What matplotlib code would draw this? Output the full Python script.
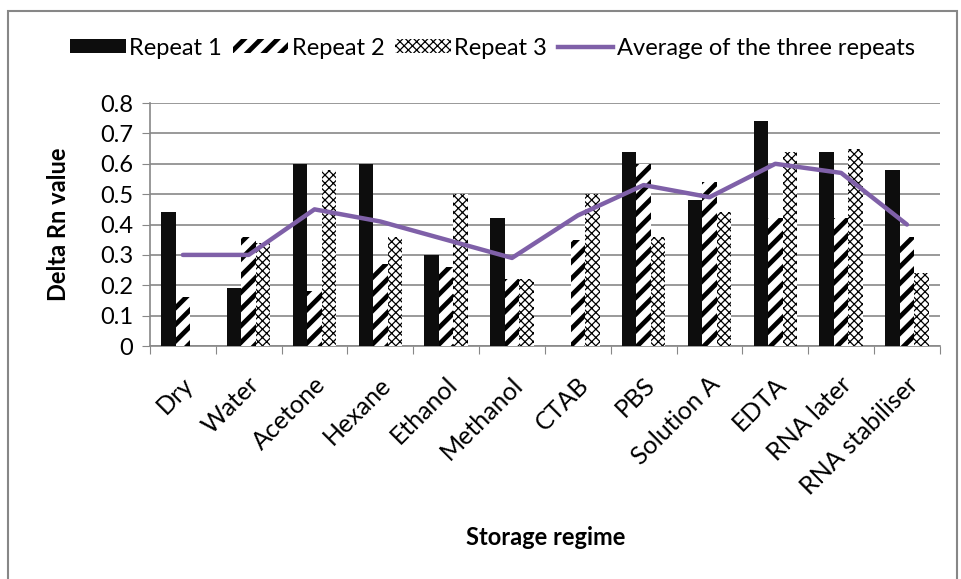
import numpy as np
import matplotlib
matplotlib.use("Agg")
import matplotlib.pyplot as plt
import matplotlib.transforms as mtransforms
from matplotlib.patches import Rectangle, Patch
from matplotlib.lines import Line2D

plt.rcParams['font.family'] = ['Lato', 'DejaVu Sans']

regimes = ["Dry", "Water", "Acetone", "Hexane", "Ethanol", "Methanol", "CTAB",
           "PBS", "Solution A", "EDTA", "RNA later", "RNA stabiliser"]
repeat1 = [0.44, 0.19, 0.60, 0.60, 0.30, 0.42, 0.00, 0.64, 0.48, 0.74, 0.64, 0.58]
repeat2 = [0.16, 0.36, 0.18, 0.27, 0.26, 0.22, 0.35, 0.60, 0.54, 0.42, 0.42, 0.36]
repeat3 = [0.00, 0.34, 0.58, 0.36, 0.50, 0.22, 0.50, 0.36, 0.44, 0.64, 0.65, 0.24]
average = [0.30, 0.30, 0.45, 0.41, 0.35, 0.29, 0.43, 0.53, 0.49, 0.60, 0.57, 0.40]
yticks = [0, 0.1, 0.2, 0.3, 0.4, 0.5, 0.6, 0.7, 0.8]

purple = "#7f60a8"
grey = "#878787"
fs = 17
stripe_lw, check_lw = 3.4, 0.9

fig = plt.figure(figsize=(9.61, 5.79), dpi=100)
ax = fig.add_axes([0.156, 0.4024, 0.822, 0.4196])

x = np.arange(len(regimes))
w = 0.22

ax.bar(x - w, repeat1, w, color="#0d0d0d", zorder=3)
plt.rcParams['hatch.linewidth'] = stripe_lw
ax.bar(x, repeat2, w, color="white", edgecolor="black", linewidth=0, hatch="//", zorder=3)
plt.rcParams['hatch.linewidth'] = check_lw
ax.bar(x + w, repeat3, w, color="white", edgecolor="black", linewidth=0, hatch="xxxx", zorder=3)
ax.plot(x, average, color=purple, lw=3.2, zorder=4, solid_capstyle="round")

ax.set_xlim(-0.5, len(regimes) - 0.5)
ax.set_ylim(0, 0.8)
ax.set_yticks(yticks)
ax.set_yticklabels([f"{v:g}" for v in yticks], fontsize=fs)
ax.yaxis.grid(True, color=grey, lw=1.2, zorder=0)

# category boundaries get the tick marks, names sit on minor ticks
ax.set_xticks(np.arange(len(regimes) + 1) - 0.5)
ax.set_xticklabels([])
ax.set_xticks(x, minor=True)
ax.set_xticklabels(regimes, minor=True, rotation=45, ha="right", va="center",
                   rotation_mode="anchor", fontsize=18)
ax.tick_params(axis="x", which="minor", length=0, pad=25)
ax.tick_params(axis="x", which="major", length=6, color=grey, direction="out")
ax.tick_params(axis="y", length=6, color=grey, direction="out", pad=6)
shift = mtransforms.ScaledTranslation(7 / 100, 0, fig.dpi_scale_trans)
for lab in ax.get_xticklabels(minor=True):
    lab.set_transform(lab.get_transform() + shift)

for side in ["top", "right"]:
    ax.spines[side].set_visible(False)
for side in ["left", "bottom"]:
    ax.spines[side].set_color(grey)
    ax.spines[side].set_linewidth(1.2)

fig.text(59 / 961, 0.613, "Delta Rn value", fontsize=fs, fontweight="bold",
         rotation=90, ha="center", va="center")
fig.text(0.568, 0.0725, "Storage regime", fontsize=fs, fontweight="bold",
         ha="center", va="center")

h1 = Patch(facecolor="#0d0d0d", edgecolor="none")
h2 = Patch(facecolor="white", edgecolor="black", linewidth=0, hatch="//")
h3 = Patch(facecolor="white", edgecolor="black", linewidth=0, hatch="xxxx")
h4 = Line2D([], [], color=purple, lw=3.2)
leg = fig.legend([h1, h2, h3, h4],
                 ["Repeat 1", "Repeat 2", "Repeat 3", "Average of the three repeats"],
                 loc="center", bbox_to_anchor=(0.5125, 0.917), ncol=4, frameon=False,
                 fontsize=fs, handlelength=2.35, handleheight=0.55,
                 handletextpad=0.15, columnspacing=0.45)
for p, hlw in zip(leg.get_patches(), [0, stripe_lw, check_lw]):
    if hasattr(p, "set_hatch_linewidth"):
        p.set_hatch_linewidth(hlw)
    else:
        p._hatch_linewidth = hlw

fig.patches.append(Rectangle((8 / 961, -0.05), 949 / 961, 1.05 - 11 / 579,
                             transform=fig.transFigure, fill=False,
                             edgecolor=grey, lw=1.5))

fig.savefig("out.png", dpi=100)
